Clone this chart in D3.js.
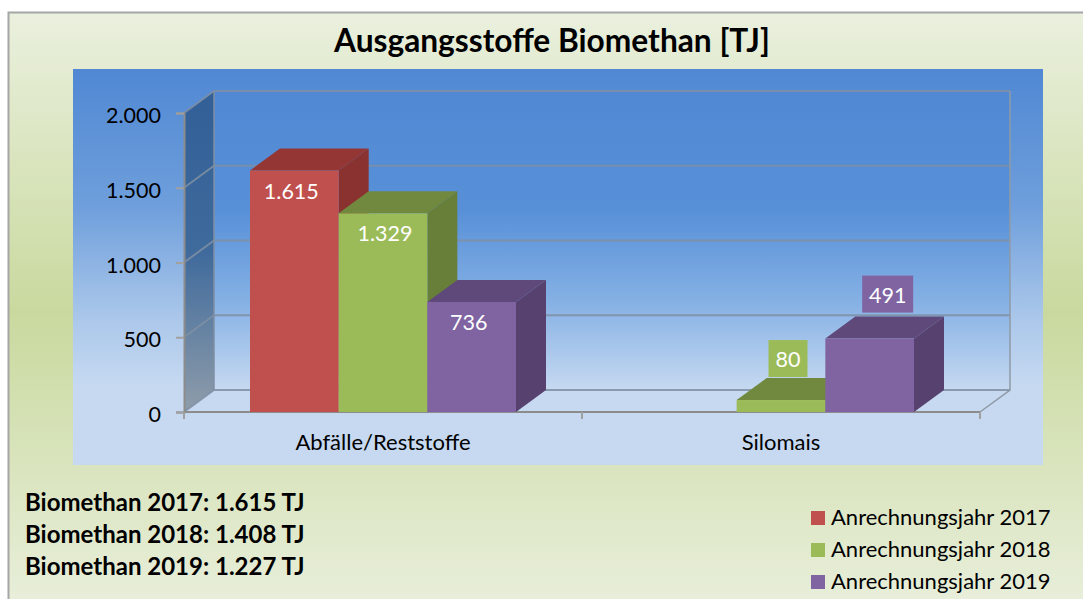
<!DOCTYPE html>
<html>
<head>
<meta charset="utf-8">
<script src="https://cdn.jsdelivr.net/npm/d3@7"></script>
<style>
  html, body { margin: 0; background: #fff; }
  text { font-family: Lato, "Open Sans", sans-serif; }
</style>
</head>
<body>
<div id="chart"></div>
<script>
const categories = ["Abfälle/Reststoffe", "Silomais"];
const seriesNames = ["Anrechnungsjahr 2017", "Anrechnungsjahr 2018", "Anrechnungsjahr 2019"];
const values2017 = [1615, null];
const values2018 = [1329, 80];
const values2019 = [736, 491];
const yTicks = [0, 500, 1000, 1500, 2000];
const totals = ["Biomethan 2017: 1.615 TJ", "Biomethan 2018: 1.408 TJ", "Biomethan 2019: 1.227 TJ"];
const titleText = "Ausgangsstoffe Biomethan [TJ]";

const seriesValues = [values2017, values2018, values2019];
const front = ["#c0504d", "#9bbb59", "#8064a2"];
const top3d = ["#943634", "#71893f", "#5f497a"];
const side3d = ["#8a3230", "#687f3a", "#57416f"];

const width = 1083;
const height = 599;
const marginLeft = 184;
const marginRight = 103;
const y0 = 412;
const y2000 = 113;
// depth of the fake 3d box
const depthX = 30;
const depthY = 22;

const svg = d3.select("#chart").append("svg")
  .attr("width", width)
  .attr("height", height)
  .style("display", "block");

const defs = svg.append("defs");
function gradient(id, stops) {
  const g = defs.append("linearGradient").attr("id", id)
    .attr("x1", 0).attr("y1", 0).attr("x2", 0).attr("y2", 1);
  stops.forEach(s => g.append("stop").attr("offset", s[0]).attr("stop-color", s[1]));
}
gradient("outerBg", [[0, "#eaf0de"], [0.5, "#c9d99e"], [1, "#e9efdc"]]);
gradient("plotBg", [[0, "#5088d3"], [0.35, "#6f9fdc"], [0.62, "#a9c6ea"], [0.8, "#c6d9f1"], [1, "#c6d9f1"]]);
gradient("wallBg", [[0, "#5088d3"], [0.4, "#5890d8"], [0.7, "#84b0e4"], [1, "#c6d9f1"]]);
gradient("sideWall", [[0, "#315f97"], [0.5, "#3f6a9c"], [1, "#8f9daa"]]);

// page panel
svg.append("rect")
  .attr("x", 8.5).attr("y", 12.5)
  .attr("width", width).attr("height", height)
  .attr("fill", "url(#outerBg)")
  .attr("stroke", "#a6a6a6")
  .attr("stroke-width", 2);

svg.append("text")
  .attr("x", 552).attr("y", 52)
  .attr("text-anchor", "middle")
  .attr("font-size", 31.7)
  .attr("font-weight", 700)
  .attr("fill", "#000")
  .text(titleText);

svg.append("rect")
  .attr("x", 73).attr("y", 69)
  .attr("width", 970).attr("height", 396)
  .attr("fill", "url(#plotBg)");

const x = d3.scaleBand().domain(categories).range([marginLeft, width - marginRight]);
const xInner = d3.scaleBand().domain(d3.range(seriesNames.length)).range([-133, 133]);
const y = d3.scaleLinear().domain([0, 2000]).range([y0, y2000]);
const fmt = d3.formatLocale({ decimal: ",", thousands: ".", grouping: [3], currency: ["", ""] }).format(",d");

const xLeft = x.range()[0];
const xRight = x.range()[1];

// walls and floor
const poly = pts => "M" + pts.map(p => p.join(",")).join("L") + "Z";
svg.append("path")
  .attr("d", poly([[xLeft + depthX, y(2000) - depthY], [xRight + depthX, y(2000) - depthY], [xRight + depthX, y(0) - depthY], [xLeft + depthX, y(0) - depthY]]))
  .attr("fill", "url(#wallBg)");
svg.append("path")
  .attr("d", poly([[xLeft, y(2000)], [xLeft + depthX, y(2000) - depthY], [xLeft + depthX, y(0) - depthY], [xLeft, y(0)]]))
  .attr("fill", "url(#sideWall)");
svg.append("path")
  .attr("d", poly([[xLeft, y(0)], [xLeft + depthX, y(0) - depthY], [xRight + depthX, y(0) - depthY], [xRight, y(0)]]))
  .attr("fill", "#c6d9f1");

// gridlines run along the side wall and the back wall
svg.append("g")
  .selectAll("path")
  .data(yTicks)
  .join("path")
    .attr("fill", "none")
    .attr("stroke", "#7f8fa3")
    .attr("stroke-width", 2)
    .attr("opacity", 0.85)
    .attr("d", d => d3.line()([[xLeft, y(d)], [xLeft + depthX, y(d) - depthY], [xRight + depthX, y(d) - depthY]]));

svg.append("path")
  .attr("fill", "none").attr("stroke", "#8f9aa6").attr("stroke-width", 1.5)
  .attr("d", d3.line()([[xRight + depthX, y(2000) - depthY], [xRight + depthX, y(0) - depthY], [xRight, y(0)]]));
svg.append("path")
  .attr("fill", "none").attr("stroke", "#7f8fa3").attr("stroke-width", 1.5)
  .attr("d", d3.line()([[xLeft + depthX, y(2000) - depthY], [xLeft + depthX, y(0) - depthY]]));

// axes
const yAxis = svg.append("g")
  .attr("transform", `translate(${xLeft},0)`)
  .call(d3.axisLeft(y).tickValues(yTicks).tickFormat(fmt).tickSize(8).tickPadding(15));
yAxis.select(".domain").attr("stroke", "#8c8c8c").attr("stroke-width", 2);
yAxis.selectAll(".tick line").attr("stroke", "#a0a0a0").attr("stroke-width", 2);
yAxis.selectAll("text")
  .attr("font-size", 21.5).attr("fill", "#000").attr("font-family", "Lato")
  .attr("dy", "0.45em");

const xAxisLine = svg.append("g");
xAxisLine.append("line")
  .attr("x1", xLeft).attr("x2", xRight)
  .attr("y1", y(0)).attr("y2", y(0))
  .attr("stroke", "#8c8c8c").attr("stroke-width", 2);
xAxisLine.selectAll(".tick")
  .data([xLeft, xLeft + x.step(), xRight])
  .join("line")
    .attr("class", "tick")
    .attr("x1", d => d).attr("x2", d => d)
    .attr("y1", y(0)).attr("y2", y(0) + 7)
    .attr("stroke", "#a0a0a0").attr("stroke-width", 2);
xAxisLine.selectAll("text")
  .data(categories)
  .join("text")
    .attr("x", d => x(d) + x.bandwidth() / 2)
    .attr("y", 450)
    .attr("text-anchor", "middle")
    .attr("font-size", 22)
    .attr("fill", "#000")
    .text(d => d);

// bars, back to front so the sides overlap properly
const bars = [];
seriesValues.forEach((vals, s) => {
  vals.forEach((v, c) => {
    if (v !== null) bars.push({ s, c, v });
  });
});

const barG = svg.append("g");
barG.selectAll("g")
  .data(bars)
  .join("g")
  .each(function (d) {
    const g = d3.select(this);
    const cx = x(categories[d.c]) + x.bandwidth() / 2;
    const x0 = cx + xInner(d.s);
    const x1 = x0 + xInner.bandwidth();
    const yt = y(d.v);
    const yb = y(0);
    g.append("path")
      .attr("d", poly([[x1, yt], [x1 + depthX, yt - depthY], [x1 + depthX, yb - depthY], [x1, yb]]))
      .attr("fill", side3d[d.s]);
    g.append("path")
      .attr("d", poly([[x0, yt], [x0 + depthX, yt - depthY], [x1 + depthX, yt - depthY], [x1, yt]]))
      .attr("fill", top3d[d.s]);
    g.append("rect")
      .attr("x", x0).attr("y", yt)
      .attr("width", xInner.bandwidth())
      .attr("height", yb - yt)
      .attr("fill", front[d.s]);
  });

// value labels, the Silomais ones sit on a coloured box above the bar
const labelG = svg.append("g");
labelG.selectAll("g")
  .data(bars)
  .join("g")
  .each(function (d) {
    const g = d3.select(this);
    const cx = x(categories[d.c]) + x.bandwidth() / 2 + xInner(d.s) + xInner.bandwidth() / 2;
    const boxed = d.c === 1;
    const small = d.v < 100;
    const boxTop = y(d.v) - (small ? 60 : 63);
    const ly = boxed ? boxTop + 27 : y(d.v) + 28;
    const lx = boxed ? cx + (small ? 7 : 18) : cx + [-3, 2, -3][d.s];
    if (boxed) {
      const w = small ? 39 : 51;
      g.append("rect")
        .attr("x", lx - w / 2).attr("y", boxTop)
        .attr("width", w).attr("height", 37)
        .attr("fill", front[d.s]);
    }
    g.append("text")
      .attr("x", lx).attr("y", ly)
      .attr("text-anchor", "middle")
      .attr("font-size", 21.5)
      .attr("fill", "#fff")
      .text(fmt(d.v));
  });

// totals block
svg.append("g")
  .selectAll("text")
  .data(totals)
  .join("text")
    .attr("x", 25)
    .attr("y", (d, i) => 511 + i * 32)
    .attr("font-size", 24)
    .attr("font-weight", 700)
    .attr("fill", "#000")
    .text(d => d);

// legend
const legend = svg.append("g")
  .selectAll("g")
  .data(seriesNames)
  .join("g")
    .attr("transform", (d, i) => `translate(811,${511 + i * 32})`);
legend.append("rect")
  .attr("width", 14).attr("height", 14)
  .attr("fill", (d, i) => front[i]);
legend.append("text")
  .attr("x", 20).attr("y", 14)
  .attr("font-size", 22)
  .attr("fill", "#000")
  .text(d => d);
</script>
</body>
</html>
